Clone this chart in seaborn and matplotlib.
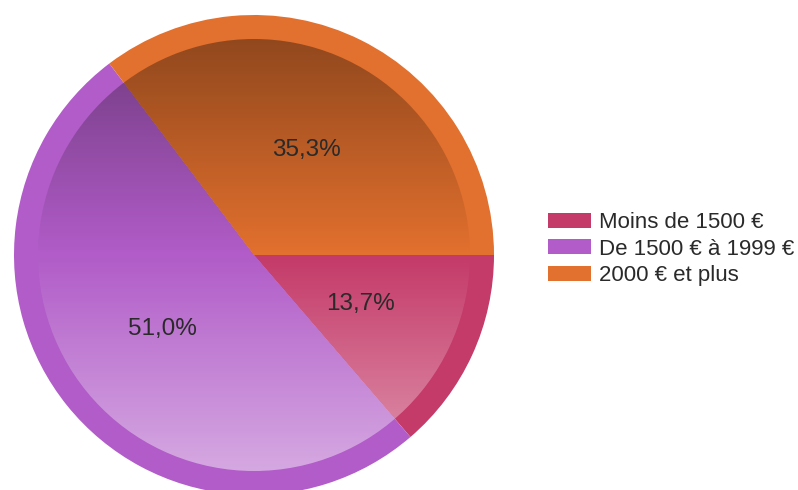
import numpy as np
import seaborn as sns
import matplotlib.pyplot as plt
from matplotlib.patches import Circle

# Data
categories = ['Moins de 1500 €', 'De 1500 € à 1999 €', '2000 € et plus']
shares = [13.7, 51.0, 35.3]
colors = ['#C43A68', '#B15CC8', '#E2702E']

sns.set_style('white')
plt.rcParams['font.family'] = ['Liberation Sans', 'DejaVu Sans']
palette = sns.color_palette(colors)

fig = plt.figure(figsize=(7.98, 4.90), dpi=100)
# pie centre at about (254, 255) px, radius 240 px
ax = fig.add_axes([(254 - 240) / 798, (490 - 255 - 240) / 490, 480 / 798, 480 / 490])
ax.set_xlim(-1, 1)
ax.set_ylim(-1, 1)
ax.set_aspect('equal')
ax.axis('off')

# outer ring
wedges, _, autotexts = ax.pie(shares, colors=palette, startangle=0, counterclock=False,
                              radius=1, autopct=lambda p: f'{p:.1f}'.replace('.', ',') + '%',
                              pctdistance=0.49, wedgeprops=dict(linewidth=0),
                              textprops=dict(fontsize=17.5, color='#2a2a2a'))
for t in autotexts:
    t.set_zorder(10)

# inner disc with shading
inner, _ = ax.pie(shares, colors=palette, startangle=0, counterclock=False,
                  radius=0.9, wedgeprops=dict(linewidth=0))

n = 256
yy = np.linspace(1, 0, n)  # top -> bottom
shade = np.zeros((n, 2, 4))
for i, v in enumerate(yy):
    if v > 0.5:
        a = (v - 0.5) / 0.5 * 0.36
        shade[i, :, :3] = 0
    else:
        a = (0.5 - v) / 0.5 * 0.47
        shade[i, :, :3] = 1
    shade[i, :, 3] = a
im = ax.imshow(shade, extent=[-0.9, 0.9, -0.9, 0.9], aspect='auto', zorder=3,
               interpolation='bilinear')
clip = Circle((0, 0), 0.9, transform=ax.transData)
im.set_clip_path(clip)

ax.set_xlim(-1, 1)
ax.set_ylim(-1, 1)

fig.legend(wedges, categories, loc='center left', bbox_to_anchor=(548 / 798, 1 - 249 / 490),
           frameon=False, fontsize=16, handlelength=1.95, handleheight=0.65,
           labelspacing=0.25, handletextpad=0.35, borderaxespad=0, borderpad=0)
for t in fig.legends[0].get_texts():
    t.set_color('#2a2a2a')

fig.savefig('out.png', dpi=100)
